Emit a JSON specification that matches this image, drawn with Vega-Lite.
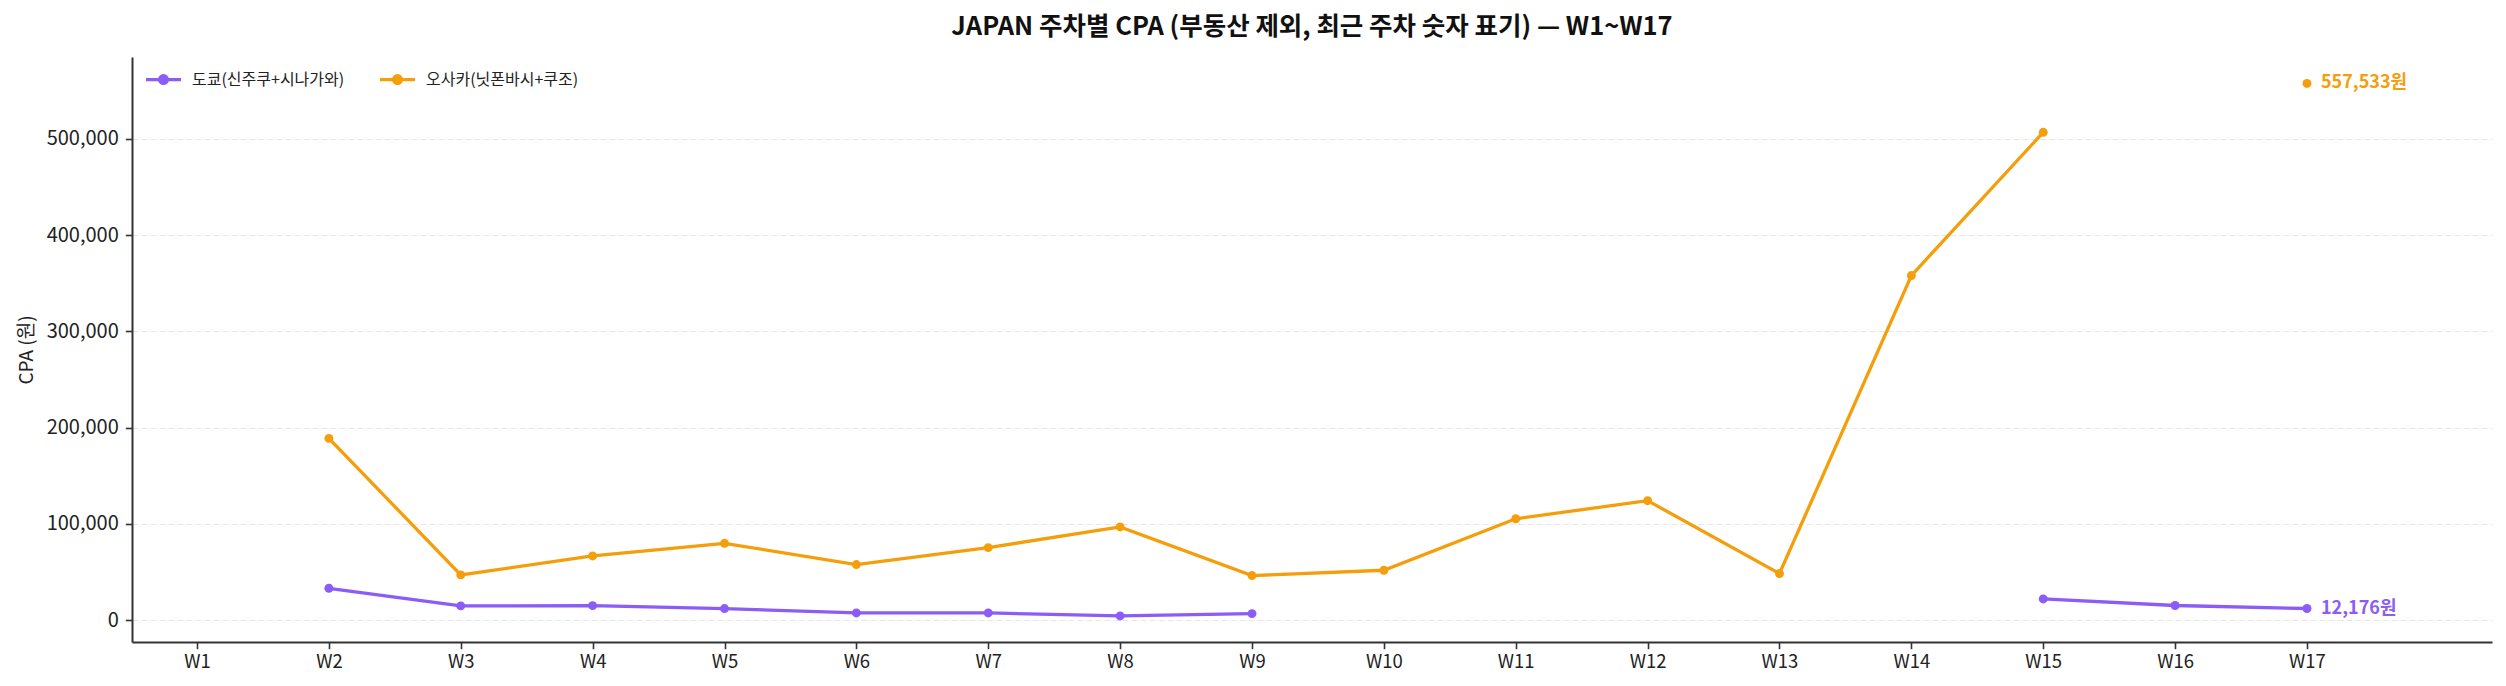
{
  "$schema": "https://vega.github.io/schema/vega-lite/v6.json",
  "width": 2360,
  "height": 585,
  "autosize": {"type": "none"},
  "padding": {"left": 132, "top": 57, "right": 14, "bottom": 44},
  "background": "white",
  "title": {
    "text": "JAPAN 주차별 CPA (부동산 제외, 최근 주차 숫자 표기) — W1~W17",
    "font": "Noto Sans CJK KR",
    "fontSize": 25.5,
    "fontWeight": "bold",
    "color": "#111",
    "anchor": "middle",
    "frame": "group",
    "baseline": "alphabetic",
    "offset": -3
  },
  "config": {
    "view": {"stroke": null},
    "font": "Noto Sans CJK KR",
    "axis": {
      "labelFont": "Noto Sans CJK KR",
      "titleFont": "Noto Sans CJK KR",
      "labelFontSize": 18.5,
      "titleFontSize": 19,
      "titleFontWeight": "normal",
      "labelColor": "#222",
      "titleColor": "#222",
      "domainColor": "#333",
      "domainWidth": 2,
      "tickColor": "#333",
      "tickWidth": 1.6,
      "tickSize": 6.7
    }
  },
  "data": {
    "values": [
      {"week": 1, "region": "도쿄(신주쿠+시나가와)", "cpa": null},
      {"week": 2, "region": "도쿄(신주쿠+시나가와)", "cpa": 33200},
      {"week": 3, "region": "도쿄(신주쿠+시나가와)", "cpa": 14900},
      {"week": 4, "region": "도쿄(신주쿠+시나가와)", "cpa": 15200},
      {"week": 5, "region": "도쿄(신주쿠+시나가와)", "cpa": 12100},
      {"week": 6, "region": "도쿄(신주쿠+시나가와)", "cpa": 7600},
      {"week": 7, "region": "도쿄(신주쿠+시나가와)", "cpa": 7600},
      {"week": 8, "region": "도쿄(신주쿠+시나가와)", "cpa": 4500},
      {"week": 9, "region": "도쿄(신주쿠+시나가와)", "cpa": 6900},
      {"week": 10, "region": "도쿄(신주쿠+시나가와)", "cpa": null},
      {"week": 11, "region": "도쿄(신주쿠+시나가와)", "cpa": null},
      {"week": 12, "region": "도쿄(신주쿠+시나가와)", "cpa": null},
      {"week": 13, "region": "도쿄(신주쿠+시나가와)", "cpa": null},
      {"week": 14, "region": "도쿄(신주쿠+시나가와)", "cpa": null},
      {"week": 15, "region": "도쿄(신주쿠+시나가와)", "cpa": 22100},
      {"week": 16, "region": "도쿄(신주쿠+시나가와)", "cpa": 15300},
      {"week": 17, "region": "도쿄(신주쿠+시나가와)", "cpa": 12176},
      {"week": 1, "region": "오사카(닛폰바시+쿠조)", "cpa": null},
      {"week": 2, "region": "오사카(닛폰바시+쿠조)", "cpa": 188900},
      {"week": 3, "region": "오사카(닛폰바시+쿠조)", "cpa": 47100},
      {"week": 4, "region": "오사카(닛폰바시+쿠조)", "cpa": 66800},
      {"week": 5, "region": "오사카(닛폰바시+쿠조)", "cpa": 79900},
      {"week": 6, "region": "오사카(닛폰바시+쿠조)", "cpa": 57800},
      {"week": 7, "region": "오사카(닛폰바시+쿠조)", "cpa": 75400},
      {"week": 8, "region": "오사카(닛폰바시+쿠조)", "cpa": 96900},
      {"week": 9, "region": "오사카(닛폰바시+쿠조)", "cpa": 46400},
      {"week": 10, "region": "오사카(닛폰바시+쿠조)", "cpa": 51900},
      {"week": 11, "region": "오사카(닛폰바시+쿠조)", "cpa": 105400},
      {"week": 12, "region": "오사카(닛폰바시+쿠조)", "cpa": 124200},
      {"week": 13, "region": "오사카(닛폰바시+쿠조)", "cpa": 48500},
      {"week": 14, "region": "오사카(닛폰바시+쿠조)", "cpa": 358000},
      {"week": 15, "region": "오사카(닛폰바시+쿠조)", "cpa": 506800},
      {"week": 16, "region": "오사카(닛폰바시+쿠조)", "cpa": null},
      {"week": 17, "region": "오사카(닛폰바시+쿠조)", "cpa": 557533}
    ]
  },
  "encoding": {
    "x": {
      "field": "week",
      "type": "quantitative",
      "scale": {"domain": [0.507, 18.403], "nice": false, "zero": false},
      "axis": {
        "title": null,
        "values": [1,2,3,4,5,6,7,8,9,10,11,12,13,14,15,16,17],
        "labelExpr": "'W' + datum.value",
        "grid": false,
        "labelPadding": 4,
        "labelFlush": false
      }
    },
    "y": {
      "field": "cpa",
      "type": "quantitative",
      "scale": {"domain": [-22600, 585000], "nice": false, "zero": false},
      "axis": {
        "title": "CPA (원)",
        "values": [0, 100000, 200000, 300000, 400000, 500000],
        "format": ",.0f",
        "labelFontSize": 20,
        "grid": true,
        "gridColor": "#e6e6e6",
        "gridDash": [6, 3],
        "gridWidth": 1.2,
        "labelPadding": 7,
        "titlePadding": 10
      }
    },
    "color": {
      "field": "region",
      "type": "nominal",
      "scale": {
        "domain": ["도쿄(신주쿠+시나가와)", "오사카(닛폰바시+쿠조)"],
        "range": ["#8B5CF6", "#F59E0B"]
      },
      "legend": {
        "title": null,
        "orient": "none",
        "legendX": 12,
        "legendY": 3,
        "direction": "horizontal",
        "padding": 0,
        "symbolType": "M-1,0L1,0M-0.22,0A0.22,0.22,0,1,1,0.22,0A0.22,0.22,0,1,1,-0.22,0Z",
        "symbolSize": 1225,
        "symbolStrokeWidth": 3.3,
        "labelFont": "Noto Sans CJK KR",
        "labelFontSize": 16,
        "labelColor": "#222",
        "labelOffset": 9,
        "columnPadding": 28,
        "encode": {
          "symbols": {
            "update": {
              "fill": {"scale": "color", "field": "value"},
              "stroke": {"scale": "color", "field": "value"}
            }
          }
        }
      }
    }
  },
  "layer": [
    {
      "mark": {"type": "line", "strokeWidth": 3.3, "invalid": "break-paths-show-domains"}
    },
    {
      "transform": [{"filter": "datum.cpa != null"}],
      "mark": {"type": "point", "shape": "circle", "filled": true, "size": 80, "opacity": 1}
    },
    {
      "transform": [
        {"filter": "datum.cpa != null && datum.week == 17"},
        {"calculate": "format(datum.cpa, ',') + '원'", "as": "label"}
      ],
      "mark": {"type": "text", "align": "left", "baseline": "middle", "dx": 14, "fontSize": 18, "fontWeight": "bold", "font": "Noto Sans CJK KR"},
      "encoding": {"text": {"field": "label"}}
    }
  ]
}
